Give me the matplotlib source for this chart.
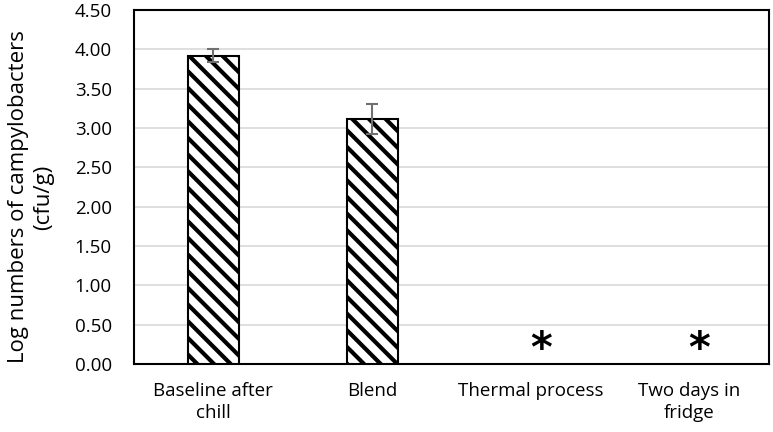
import matplotlib.pyplot as plt
import numpy as np

categories = ['Baseline after\nchill', 'Blend', 'Thermal process', 'Two days in\nfridge']
log_counts = [3.92, 3.11, 0.0, 0.0]
errors = [0.08, 0.19, 0.0, 0.0]
not_detected = [False, False, True, True]
star_level = 0.27

plt.rcParams['font.family'] = ['Open Sans', 'DejaVu Sans']
plt.rcParams['hatch.linewidth'] = 3.0

fig = plt.figure(figsize=(7.73, 4.32), dpi=100)
ax = fig.add_axes([0.1734, 0.1574, 0.8214, 0.8194])

x = np.arange(len(categories))
shown = [v if not nd else np.nan for v, nd in zip(log_counts, not_detected)]
ax.bar(x, shown, width=0.32, color='white', edgecolor='black', linewidth=1.5,
       hatch='\\\\', zorder=3)
for i in range(len(categories)):
    if not not_detected[i]:
        ax.errorbar(x[i], log_counts[i], yerr=errors[i], color='#707070',
                    capsize=4, elinewidth=1.5, capthick=1.5, zorder=4)
    else:
        ax.annotate('*', (x[i], star_level), xytext=(7, -5), textcoords='offset points',
                    ha='center', va='center', fontsize=30, fontweight='bold',
                    family='DejaVu Sans', zorder=4)

ax.set_xlim(-0.5, len(categories) - 0.5)
ax.set_ylim(0, 4.5)
ax.set_yticks(np.arange(0, 4.51, 0.5))
ax.set_yticklabels([f'{v:.2f}' for v in np.arange(0, 4.51, 0.5)])
ax.set_xticks(x)
ax.set_xticklabels(categories, linespacing=1.28)
ax.tick_params(axis='both', length=0, labelsize=13.5, colors='black')
ax.tick_params(axis='y', pad=16)
ax.tick_params(axis='x', pad=13)
ax.yaxis.grid(True, color='#d9d9d9', linewidth=1.2, zorder=0)
ax.set_axisbelow(True)
for s in ax.spines.values():
    s.set_linewidth(1.5)
    s.set_color('black')
ax.set_ylabel('Log numbers of campylobacters\n(cfu/g)', fontsize=16, linespacing=1.25)
ax.yaxis.set_label_coords(-0.126, 0.472)

fig.savefig('out.png', dpi=100)
